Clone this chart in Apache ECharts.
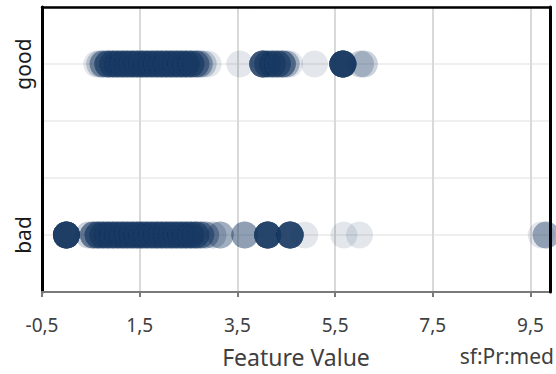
<!DOCTYPE html>
<html>
<head>
<meta charset="utf-8">
<script src="https://cdn.jsdelivr.net/npm/echarts@6/dist/echarts.min.js"></script>
<style>
  html, body { margin: 0; padding: 0; background: #fff; }
  #chart { width: 556px; height: 374px; }
</style>
</head>
<body>
<div id="chart"></div>
<script>
// Classes shown on the vertical axis
const categories = ['bad', 'good'];

// Tick labels of the feature axis
const xTicks = [-0.5, 1.5, 3.5, 5.5, 7.5, 9.5];

// Feature values per class, with how many observations share each value
const goodValues = [0.62, 0.68, 0.75, 0.85, 0.95, 1.05, 1.15, 1.25, 1.35, 1.45, 1.55, 1.65, 1.75, 1.85,
  1.95, 2.05, 2.15, 2.25, 2.35, 2.45, 2.55, 2.65, 2.72, 2.8, 2.9,
  3.55,
  4.02, 4.12, 4.22, 4.32, 4.42, 4.5, 4.57,
  5.08, 5.66, 6.02, 6.1];
const goodCounts = [1, 2, 5, 9, 9, 9, 9, 9, 9, 9, 9, 9, 9, 9,
  9, 9, 9, 9, 9, 9, 9, 6, 4, 2, 1,
  1,
  14, 8, 8, 8, 7, 3, 1,
  1, 25, 2, 2];

const badValues = [0.0,
  0.45, 0.55, 0.65, 0.75, 0.85, 0.95, 1.05, 1.15, 1.25, 1.35, 1.45, 1.55, 1.65, 1.75,
  1.85, 1.95, 2.05, 2.15, 2.25, 2.35, 2.45, 2.55, 2.65, 2.75, 2.85, 3.0, 3.15,
  3.65, 4.12, 4.58, 4.88, 5.68, 6.0, 9.72, 9.82];
const badCounts = [25,
  2, 7, 9, 9, 9, 9, 9, 9, 9, 9, 9, 9, 9, 9,
  9, 9, 9, 9, 9, 9, 9, 9, 9, 6, 4, 2, 4,
  5, 20, 18, 1, 1, 1, 1, 4];

// Each class sits on its own level of the vertical value axis
const rowLevel = { bad: 1, good: 4 };

function expand(values, counts, cat) {
  const out = [];
  values.forEach((v, i) => {
    for (let k = 0; k < counts[i]; k++) out.push([v, rowLevel[cat]]);
  });
  return out;
}

const points = expand(badValues, badCounts, 'bad').concat(expand(goodValues, goodCounts, 'good'));

const FONT = 'Noto Sans';
const fmtNum = v => String(v).replace('.', ',');

const chart = echarts.init(document.getElementById('chart'), null, { renderer: 'svg' });
chart.setOption({
  animation: false,
  backgroundColor: '#ffffff',
  grid: { left: 42, right: 6, top: 7, bottom: 82, containLabel: false, show: false },
  xAxis: [{
    type: 'value',
    min: xTicks[0],
    max: 9.9,
    interval: 2,
    name: 'Feature Value',
    nameLocation: 'middle',
    nameGap: 53,
    nameTextStyle: { fontFamily: FONT, fontSize: 23, color: '#404040' },
    axisLine: { show: true, onZero: false, lineStyle: { color: '#7a7a7a', width: 2 } },
    axisTick: { show: true, length: 5, lineStyle: { color: '#7a7a7a', width: 2 } },
    axisLabel: {
      fontFamily: FONT, fontSize: 19, color: '#404040', margin: 23,
      showMaxLabel: false,
      formatter: v => (xTicks.some(t => Math.abs(t - v) < 1e-9) ? fmtNum(v) : '')
    },
    splitLine: { show: true, lineStyle: { color: '#d9d9d9', width: 2 } },
    z: 0
  }, {
    // top frame edge, drawn above the markers
    type: 'value', position: 'top', min: xTicks[0], max: 9.9,
    axisLine: { show: true, onZero: false, lineStyle: { color: '#000', width: 2.5 } },
    axisTick: { show: false }, axisLabel: { show: false }, splitLine: { show: false },
    z: 10
  }],
  yAxis: [{
    type: 'value',
    min: 0,
    max: 5,
    interval: 1,
    axisLine: { show: true, onZero: false, lineStyle: { color: '#000', width: 3 } },
    axisTick: { show: false },
    axisLabel: {
      rotate: 90,
      fontFamily: FONT, fontSize: 21, color: '#1a1a1a', margin: 9,
      formatter: v => {
        const c = categories.find(k => rowLevel[k] === v);
        return c || '';
      }
    },
    splitLine: { show: true, lineStyle: { color: '#efefef', width: 2 } },
    z: 0
  }, {
    // right frame edge, drawn above the markers
    type: 'value', position: 'right', min: 0, max: 5,
    axisLine: { show: true, onZero: false, lineStyle: { color: '#000', width: 3 } },
    axisTick: { show: false }, axisLabel: { show: false }, splitLine: { show: false },
    z: 10
  }],
  graphic: [{
    type: 'text',
    right: 2,
    top: 345,
    style: { text: 'sf:Pr:med', fontFamily: FONT, fontSize: 21, fill: '#404040' }
  }],
  series: [{
    type: 'scatter',
    xAxisIndex: 0,
    yAxisIndex: 0,
    data: points,
    symbol: 'circle',
    symbolSize: 27,
    clip: true,
    itemStyle: { color: '#1c3a66', opacity: 0.12 },
    emphasis: { disabled: true },
    z: 2
  }]
});
</script>
</body>
</html>
